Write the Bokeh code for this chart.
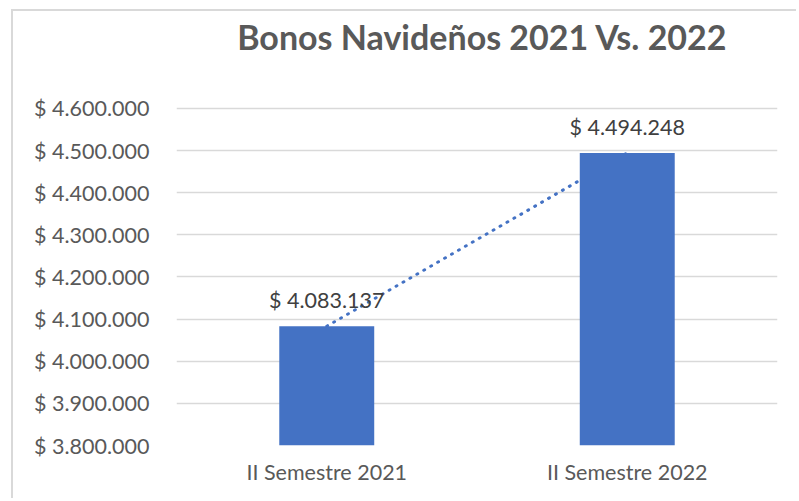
from bokeh.plotting import figure
from bokeh.models import ColumnDataSource, FixedTicker, CustomJSTickFormatter, LabelSet, Label
from bokeh.core.properties import value
from bokeh.embed import file_html
from bokeh.resources import INLINE

# ---- data ----
categories = ["II Semestre 2021", "II Semestre 2022"]
values = [4083137, 4494248]
labels = ["$ 4.083.137", "$ 4.494.248"]
y_ticks = [3800000, 3900000, 4000000, 4100000, 4200000, 4300000, 4400000, 4500000, 4600000]
title_text = "Bonos Navideños 2021 Vs. 2022"

FONT = "Lato"
BLUE = "#4472C4"
GRID = "#D9D9D9"
FS = "21.5px"

src = ColumnDataSource(dict(cat=categories, val=values, lab=labels))

# frame extends upward (blank) so the title can sit inside it
p = figure(x_range=categories, y_range=(y_ticks[0], 4830000),
           width=785, height=489, output_backend="svg", toolbar_location=None,
           min_border_left=163, min_border_right=21, min_border_top=0, min_border_bottom=55)
p.margin = (9, 0, 0, 11)
p.styles = {"border-top": "2px solid #D9D9D9", "border-left": "2px solid #D9D9D9"}

# title (screen units relative to the frame, y from bottom)
p.add_layout(Label(x=306, y=409, x_units="screen", y_units="screen", text=title_text,
                   text_align="center", text_baseline="middle", text_font=FONT,
                   text_font_size="34px", text_font_style="bold",
                   text_color="#595959"))

# trendline (dotted) behind bars
p.line(x="cat", y="val", source=src, line_color=BLUE, line_width=3,
       line_dash="1 7", line_cap="round")
p.vbar(x="cat", top="val", bottom=y_ticks[0], width=0.316, source=src,
       fill_color=BLUE, line_color=None)

p.add_layout(LabelSet(x="cat", y="val", text="lab", source=src, text_align="center",
                      text_baseline="alphabetic", y_offset=18, text_font=value(FONT),
                      text_font_size=value(FS), text_color="#404040"))

# axes
p.yaxis.ticker = FixedTicker(ticks=y_ticks)
p.yaxis.formatter = CustomJSTickFormatter(code="""
    return '$ ' + Math.round(tick).toString().replace(/\\B(?=(\\d{3})+(?!\\d))/g, '.');
""")
for ax in (p.xaxis, p.yaxis):
    ax.axis_line_color = None
    ax.major_tick_line_color = None
    ax.minor_tick_line_color = None
    ax.major_label_text_font = FONT
    ax.major_label_text_font_size = FS
    ax.major_label_text_color = "#595959"
p.yaxis.major_label_standoff = 21
p.xaxis.major_label_standoff = 7

p.xgrid.grid_line_color = None
p.ygrid.grid_line_color = GRID
p.ygrid.grid_line_width = 1.5
p.ygrid.ticker = FixedTicker(ticks=y_ticks)
p.outline_line_color = None
p.background_fill_color = "white"
p.border_fill_color = "white"

open("out.html", "w").write(file_html(p, INLINE))
